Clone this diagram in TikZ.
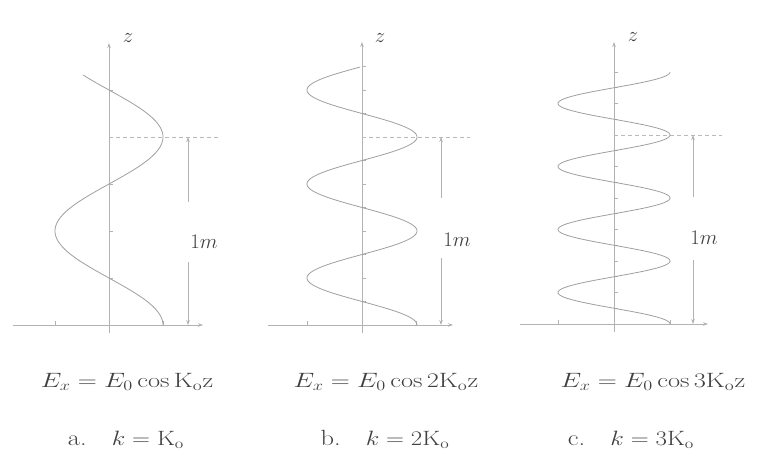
\documentclass[tikz,border=0pt]{standalone}
\usepackage{graphicx}
\usetikzlibrary{arrows.meta}
\newcommand{\wideA}[1]{\scalebox{1.27}[1]{#1}}
\newcommand{\wideB}[1]{\scalebox{1.2}[1]{#1}}
\begin{document}
\begin{tikzpicture}[x=1pt,y=-1pt,
  axis/.style={draw=gray!60, line width=0.6pt},
  axisarrow/.style={axis, -{Stealth[length=5pt,width=3.5pt]}},
  tick/.style={draw=gray!60, line width=0.6pt},
  wave/.style={draw=gray!75, line width=0.8pt},
  guide/.style={draw=gray!55, line width=0.6pt, dash pattern=on 4pt off 3pt},
  dimline/.style={draw=gray!60, line width=0.6pt, -{Stealth[length=5pt,width=3.5pt]}},
  lbl/.style={font=\fontsize{22}{26}\selectfont, text=black!75, inner sep=0pt}]
\useasboundingbox (0,0) rectangle (757,457);

% ---------------- panel a ----------------
\coordinate (aVB) at (109,333);
\coordinate (aVT) at (109,43);
\coordinate (aHL) at (13,325);
\coordinate (aHR) at (203,325);
\coordinate (aD1) at (109,137);
\coordinate (aD2) at (218,137);
\coordinate (aAT) at (188,137);
\coordinate (aGT) at (188,202);
\coordinate (aGB) at (188,262);
\coordinate (aAB) at (188,325);
\draw[axisarrow] (aVB) -- (aVT);
\draw[axisarrow] (aHL) -- (aHR);
\foreach \xx in {55,163} \draw[tick] (\xx,325) -- ++(0,-4);
\foreach \k in {1,...,5} \draw[tick] (109,325-47*\k) -- ++(4,0);
\draw[guide] (aD1) -- (aD2);
\draw[dimline] (aGT) -- (aAT);
\draw[dimline] (aGB) -- (aAB);
\draw[wave] plot[domain=0:250, samples=200, variable=\t] ({109+54*cos((\t/188)*360)}, {325-\t});
\node[lbl] (az) at (128,38) {$z$};
\node[lbl] (am) at (204,242) {$1m$};

% ---------------- panel b ----------------
\coordinate (bVB) at (362,333);
\coordinate (bVT) at (362,42);
\coordinate (bHL) at (268,325);
\coordinate (bHR) at (453,325);
\coordinate (bD1) at (362,137);
\coordinate (bD2) at (470,137);
\coordinate (bAT) at (441,137);
\coordinate (bGT) at (441,198);
\coordinate (bGB) at (441,258);
\coordinate (bAB) at (441,325);
\draw[axisarrow] (bVB) -- (bVT);
\draw[axisarrow] (bHL) -- (bHR);
\foreach \xx in {307,416} \draw[tick] (\xx,325) -- ++(0,-4);
\foreach \k in {1,...,11} \draw[tick] (362,325-23.5*\k) -- ++(4,0);
\draw[guide] (bD1) -- (bD2);
\draw[dimline] (bGT) -- (bAT);
\draw[dimline] (bGB) -- (bAB);
\draw[wave] plot[domain=0:258, samples=300, variable=\t] ({362+55*cos((\t/94)*360)}, {325-\t});
\node[lbl] (bz) at (380,38) {$z$};
\node[lbl] (bm) at (457,240) {$1m$};

% ---------------- panel c ----------------
\coordinate (cVB) at (614,332);
\coordinate (cVT) at (614,42);
\coordinate (cHL) at (520,324);
\coordinate (cHR) at (708,324);
\coordinate (cD1) at (614,135);
\coordinate (cD2) at (722,135);
\coordinate (cAT) at (693,135);
\coordinate (cGT) at (693,197);
\coordinate (cGB) at (693,260);
\coordinate (cAB) at (693,324);
\draw[axisarrow] (cVB) -- (cVT);
\draw[axisarrow] (cHL) -- (cHR);
\foreach \xx in {558,670} \draw[tick] (\xx,324) -- ++(0,-4);
\foreach \k in {1,...,16} \draw[tick] (614,324-15.75*\k) -- ++(4,0);
\draw[guide] (cD1) -- (cD2);
\draw[dimline] (cGT) -- (cAT);
\draw[dimline] (cGB) -- (cAB);
\draw[wave] plot[domain=0:252, samples=400, variable=\t] ({614+56*cos((\t/63)*360)}, {324-\t});
\node[lbl] (cz) at (633,37) {$z$};
\node[lbl] (cm) at (704,238) {$1m$};

% ---------------- captions ----------------
\node[lbl, anchor=base] (fa) at (127,387) {\wideA{$E_x = E_0 \cos \mathrm{K_o z}$}};
\node[lbl, anchor=base] (fb) at (386,387) {\wideA{$E_x = E_0 \cos 2\mathrm{K_o z}$}};
\node[lbl, anchor=base] (fc) at (653,387) {\wideA{$E_x = E_0 \cos 3\mathrm{K_o z}$}};
\node[lbl, anchor=base] (ka) at (126,445) {\wideB{a.\hspace{0.95em}$k = \mathrm{K_o}$}};
\node[lbl, anchor=base] (kb) at (385,445) {\wideB{b.\hspace{0.95em}$k = 2\mathrm{K_o}$}};
\node[lbl, anchor=base] (kc) at (631,445) {\wideB{c.\hspace{0.95em}$k = 3\mathrm{K_o}$}};
\end{tikzpicture}
\end{document}
